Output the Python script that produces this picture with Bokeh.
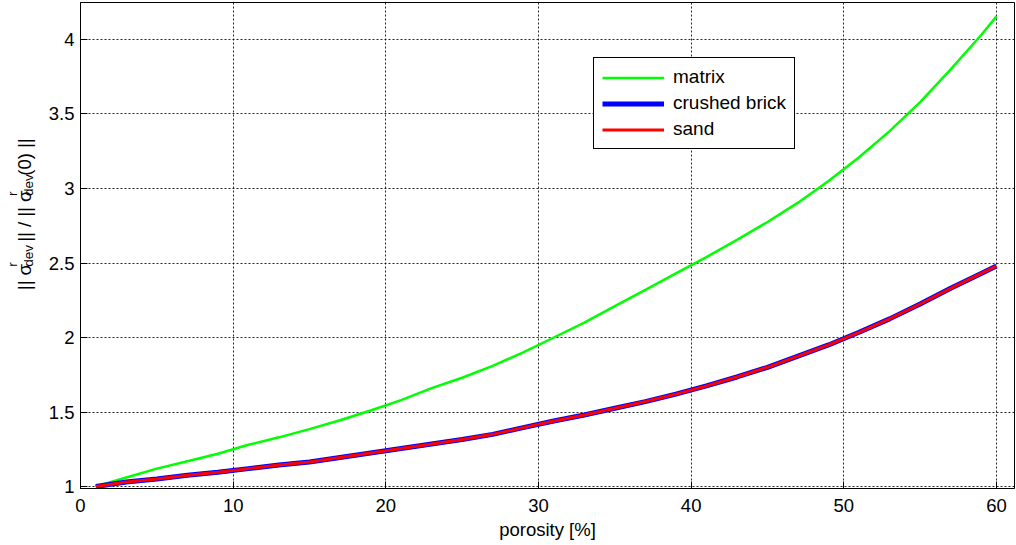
import math
from bokeh.plotting import figure
from bokeh.layouts import row
from bokeh.models import Range1d, FixedTicker, CustomJSTickFormatter
from bokeh.core.properties import value
from bokeh.embed import file_html
from bokeh.resources import INLINE

# ---------------- data ----------------
porosity = [1, 3, 5, 7, 9, 11, 13, 15, 17, 19, 21, 23, 25, 27, 29, 31, 33, 35,
            37, 39, 41, 43, 45, 47, 49, 51, 53, 55, 57, 59, 60]
matrix = [1.00, 1.06, 1.12, 1.17, 1.22, 1.28, 1.33, 1.385, 1.445, 1.51, 1.58, 1.66,
          1.73, 1.81, 1.90, 2.00, 2.10, 2.21, 2.32, 2.43, 2.54, 2.655, 2.775, 2.905,
          3.05, 3.21, 3.385, 3.58, 3.80, 4.03, 4.155]
crushed_brick = [1.00, 1.03, 1.05, 1.075, 1.095, 1.12, 1.145, 1.165, 1.195, 1.225,
                 1.255, 1.285, 1.315, 1.35, 1.395, 1.44, 1.48, 1.525, 1.57, 1.62,
                 1.675, 1.735, 1.80, 1.875, 1.95, 2.035, 2.125, 2.225, 2.33, 2.43, 2.48]
sand = [1.00, 1.03, 1.05, 1.075, 1.095, 1.12, 1.145, 1.165, 1.195, 1.225,
        1.255, 1.285, 1.315, 1.35, 1.395, 1.44, 1.48, 1.525, 1.57, 1.62,
        1.675, 1.735, 1.80, 1.875, 1.95, 2.035, 2.125, 2.225, 2.33, 2.43, 2.48]
x_ticks = [0, 10, 20, 30, 40, 50, 60]
y_ticks = [1, 1.5, 2, 2.5, 3, 3.5, 4]
x_label = "porosity [%]"
series_names = ["matrix", "crushed brick", "sand"]

FONT = "Liberation Sans"
FS = 18.5
H = 544
LW = 45  # width of the side strip holding the rotated y label

p = figure(width=1015 - LW, height=H, output_backend="svg", toolbar_location=None,
           title=None,
           x_range=Range1d(0, 61.18), y_range=Range1d(0.9866, 4.2483),
           min_border_left=80 - LW, min_border_right=1, min_border_top=2,
           min_border_bottom=56)
p.background_fill_color = "white"
p.border_fill_color = "white"
p.outline_line_color = "black"
p.outline_line_width = 1

p.line(porosity, matrix, line_color="#00ff00", line_width=2.5, legend_label=series_names[0])
p.line(porosity, crushed_brick, line_color="#0000ff", line_width=5, legend_label=series_names[1])
p.line(porosity, sand, line_color="#ff0000", line_width=3, legend_label=series_names[2])

fmt = CustomJSTickFormatter(code="return tick.toString();")
for ax, ticks in ((p.xaxis[0], x_ticks), (p.yaxis[0], y_ticks)):
    ax.ticker = FixedTicker(ticks=ticks)
    ax.formatter = fmt
    ax.major_tick_in = 7
    ax.major_tick_out = 0
    ax.minor_tick_line_color = None
    ax.axis_line_color = "black"
    ax.major_tick_line_color = "black"
    ax.major_label_text_font = FONT
    ax.major_label_text_font_size = f"{FS}px"
    ax.major_label_text_color = "black"

p.xaxis.major_label_standoff = 10
p.yaxis.major_label_standoff = 6
p.xaxis.axis_label = x_label
p.xaxis.axis_label_text_font = FONT
p.xaxis.axis_label_text_font_size = f"{FS}px"
p.xaxis.axis_label_text_font_style = "normal"
p.xaxis.axis_label_text_color = "black"
p.xaxis.axis_label_standoff = 4

for g in (p.xgrid[0], p.ygrid[0]):
    g.grid_line_color = "black"
    g.grid_line_dash = "2 2"
    g.grid_line_alpha = 0.85
    g.grid_line_width = 1

lg = p.legend[0]
lg.location = (513, 339)
lg.border_line_color = "black"
lg.border_line_width = 1
lg.border_line_alpha = 1
lg.background_fill_color = "white"
lg.background_fill_alpha = 1
lg.label_text_font = FONT
lg.label_text_font_size = "19px"
lg.label_text_color = "black"
lg.glyph_width = 62
lg.glyph_height = 21
lg.label_height = 21
lg.label_standoff = 9
lg.padding = 8
lg.spacing = 4
lg.margin = 0

# ---------------- side strip: rotated y-axis label with sub/superscripts ----------------
side = figure(width=LW, height=H, output_backend="svg", toolbar_location=None,
              title=None, x_axis_location=None, y_axis_location=None,
              x_range=Range1d(0, LW), y_range=Range1d(H, 0),
              min_border=0)
side.outline_line_color = None
side.background_fill_color = "white"
side.border_fill_color = "white"
for g in side.grid:
    g.visible = False
    g.grid_line_color = None

EM = {"|": 0.260, " ": 0.278, "/": 0.278, "(": 0.333, ")": 0.333, "0": 0.556,
      "d": 0.556, "e": 0.556, "v": 0.5, "r": 0.333, "σ": 0.617}

def tw(s, fs):
    return sum(EM[c] for c in s) * fs

SFS = 13.5
main_x, sup_x, sub_x = 24, 12, 28
seg1, seg2, seg3 = "|| σ", "|| / || σ", "(0) ||"
block = tw("dev", SFS) + 1
s = 322   # page y of the start (bottom) of the label

def lab(text, xs, ys, fs):
    side.text(x=[xs], y=[ys], text=[text], angle=math.pi / 2,
              text_font=value(FONT), text_font_size=f"{fs}px",
              text_color="black", text_align="left", text_baseline="alphabetic")

lab(seg1, main_x, s, FS); s -= tw(seg1, FS)
lab("r", sup_x, s, SFS); lab("dev", sub_x, s, SFS); s -= block
s -= tw(" ", FS)
lab(seg2, main_x, s, FS); s -= tw(seg2, FS)
lab("r", sup_x, s, SFS); lab("dev", sub_x, s, SFS); s -= block
lab(seg3, main_x, s, FS)

layout = row(side, p, spacing=0)
open("out.html", "w").write(file_html(layout, INLINE))
